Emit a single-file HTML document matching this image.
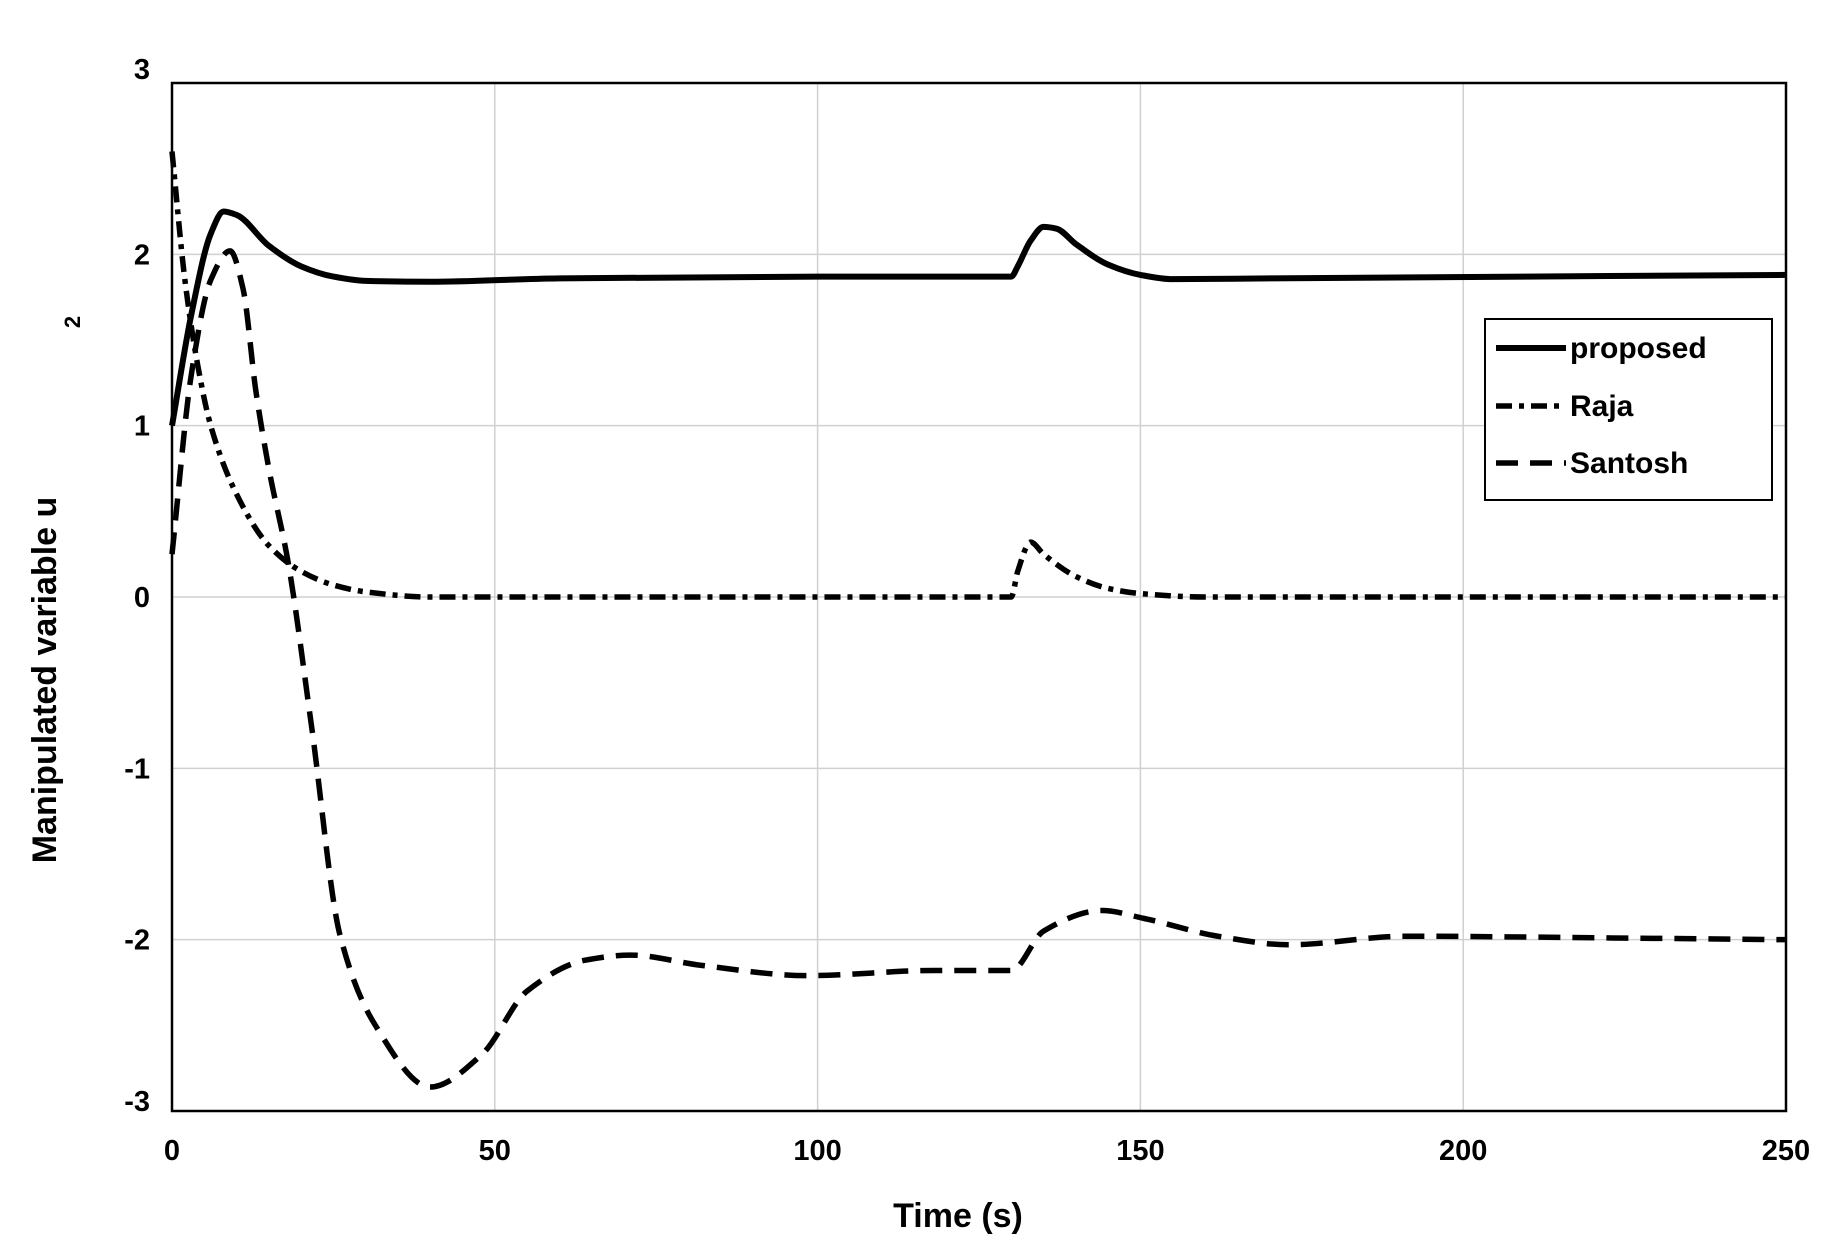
<!DOCTYPE html>
<html><head><meta charset="utf-8"><style>
body{margin:0;background:#fff}
svg{display:block}
text{font-family:"Liberation Sans",Arial,sans-serif;font-weight:bold;fill:#000}
</style></head><body>
<svg id="s" width="1835" height="1255" xmlns="http://www.w3.org/2000/svg">
<g id="grid" stroke="#d0d0d0" stroke-width="1.5"></g>
<g id="lab" font-size="29"></g>
<rect x="172" y="83" width="1614" height="1028" fill="none" stroke="#000" stroke-width="2.5"/>
<g id="curves" fill="none" stroke="#000" stroke-linejoin="round"></g>
<rect x="1485" y="319" width="287" height="181" fill="#fff" stroke="#000" stroke-width="2"/>
<line x1="1496" y1="348" x2="1566" y2="348" stroke="#000" stroke-width="6"/>
<line x1="1496" y1="406" x2="1566" y2="406" stroke="#000" stroke-width="5.5" stroke-dasharray="16,7,5,7"/>
<line x1="1496" y1="463" x2="1566" y2="463" stroke="#000" stroke-width="5.5" stroke-dasharray="22,12"/>
<text x="1570" y="358" font-size="30">proposed</text>
<text x="1570" y="416" font-size="30">Raja</text>
<text x="1570" y="473" font-size="30">Santosh</text>
<text x="958" y="1227" font-size="34" text-anchor="middle">Time (s)</text>
<text transform="translate(56,680) rotate(-90)" font-size="34" text-anchor="middle">Manipulated variable u</text>
<text transform="translate(80,322) rotate(-90)" font-size="22" text-anchor="middle">2</text>
</svg>
<script>
var X0=172,X1=1786,Y0=1111,Y1=83;
function px(t){return X0+(X1-X0)*t/250}
function py(v){return Y0-(Y0-Y1)*(v+3)/6}
var NS="http://www.w3.org/2000/svg";
function el(p,n,a,txt){var e=document.createElementNS(NS,n);for(var k in a)e.setAttribute(k,a[k]);if(txt!==undefined)e.textContent=txt;document.getElementById(p).appendChild(e);}
for(var t=50;t<250;t+=50)el("grid","line",{x1:px(t),x2:px(t),y1:Y1,y2:Y0});
for(var v=-2;v<3;v++)el("grid","line",{x1:X0,x2:X1,y1:py(v),y2:py(v)});
for(var t=0;t<=250;t+=50)el("lab","text",{x:px(t),y:1160,"text-anchor":"middle"},""+t);
for(var v=-3;v<=3;v++)el("lab","text",{x:150,y:py(v)+(v==3?-4:v==-3?0:10),"text-anchor":"end"},""+v);
function path(pts){
 var P=pts.map(function(p){return[px(p[0]),py(p[1])]});var n=P.length;
 var d=[],m=[];
 for(var i=0;i<n-1;i++)d.push((P[i+1][1]-P[i][1])/(P[i+1][0]-P[i][0]));
 for(var i=0;i<n;i++){
  if(i==0)m.push(d[0]);else if(i==n-1)m.push(d[n-2]);
  else if(d[i-1]*d[i]<=0)m.push(0);
  else{var h0=P[i][0]-P[i-1][0],h1=P[i+1][0]-P[i][0];var w1=2*h1+h0,w2=h1+2*h0;m.push((w1+w2)/(w1/d[i-1]+w2/d[i]));}
 }
 var s="M"+P[0][0]+","+P[0][1];
 for(var i=0;i<n-1;i++){
  var h=(P[i+1][0]-P[i][0])/3;
  s+=" C"+(P[i][0]+h)+","+(P[i][1]+m[i]*h)+" "+(P[i+1][0]-h)+","+(P[i+1][1]-m[i+1]*h)+" "+P[i+1][0]+","+P[i+1][1];
 }
 return s;
}
var prop=[[0,1.0],[3,1.65],[6,2.12],[8,2.25],[10,2.23],[15,2.05],[20,1.93],[25,1.87],[30,1.845],[40,1.84],[60,1.86],[100,1.87],[130,1.87],[131,1.93],[133,2.08],[135,2.16],[137,2.15],[140,2.06],[145,1.94],[150,1.88],[155,1.855],[170,1.86],[250,1.88]];
var raja=[[0,2.6],[2,1.85],[4,1.35],[6,1.0],[10,0.6],[15,0.3],[20,0.15],[25,0.07],[30,0.03],[40,0.0],[130,0.0],[131,0.15],[133,0.32],[135,0.25],[140,0.12],[145,0.05],[150,0.02],[160,0],[250,0]];
var san=[[0,0.25],[3,1.3],[6,1.85],[9,2.02],[11,1.8],[13,1.2],[15,0.75],[18,0.2],[21.6,-0.75],[26,-1.97],[31.5,-2.5],[40,-2.86],[48,-2.67],[55,-2.3],[64,-2.12],[71,-2.09],[82,-2.15],[98.5,-2.21],[118,-2.18],[130,-2.18],[135,-1.95],[144,-1.83],[151,-1.88],[162,-1.98],[173,-2.03],[191,-1.98],[223,-1.99],[250,-2.0]];
el("curves","path",{d:path(prop),"stroke-width":6});
el("curves","path",{d:path(raja),"stroke-width":5.5,"stroke-dasharray":"16,7,5,7"});
el("curves","path",{d:path(san),"stroke-width":5.5,"stroke-dasharray":"22,12"});
</script>
</body></html>
